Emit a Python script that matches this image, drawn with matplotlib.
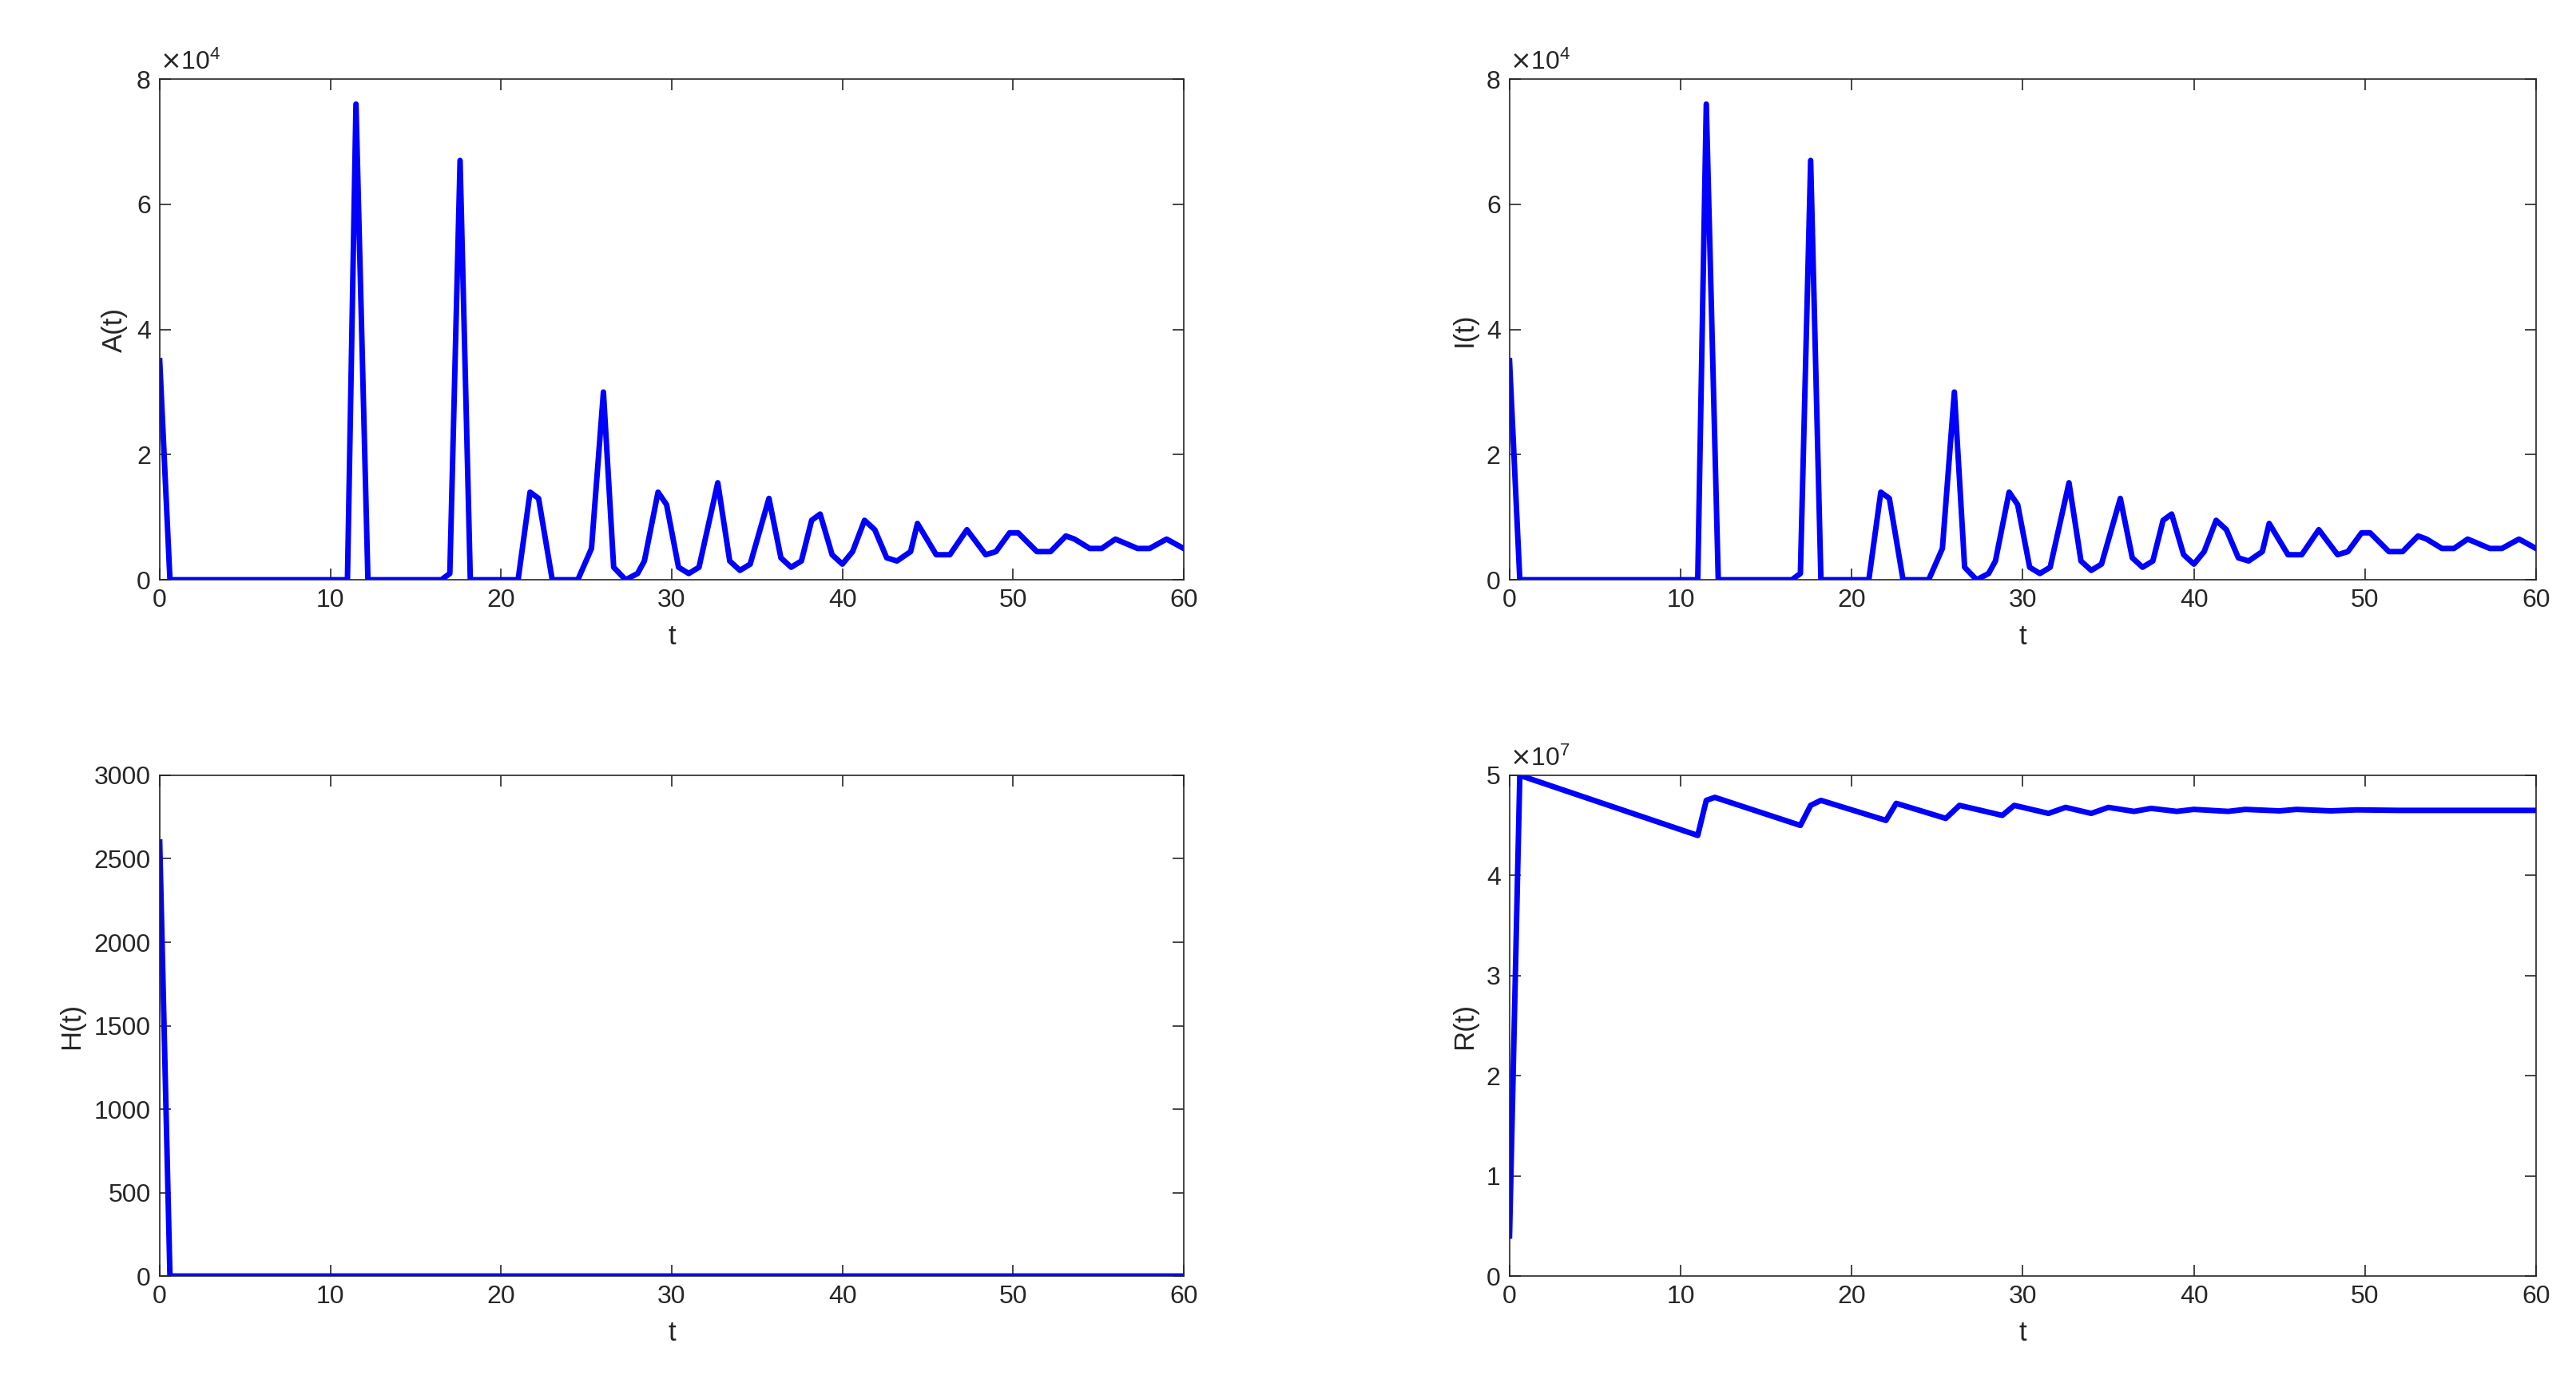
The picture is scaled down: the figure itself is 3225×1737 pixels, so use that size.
import matplotlib
matplotlib.use("Agg")
import matplotlib.pyplot as plt
from matplotlib.ticker import FuncFormatter

plt.rcParams['font.family'] = ['Liberation Sans', 'DejaVu Sans']

tA = [0,0.6,11,11.5,12.2,16.5,17,17.6,18.2,21,21.7,22.2,23,24.5,25.3,26,26.6,27.3,28,28.4,29.2,29.7,30.4,31,31.6,32.7,33.4,34,34.6,35.7,36.4,37,37.6,38.2,38.7,39.4,40,40.6,41.3,41.9,42.6,43.2,44,44.4,45.5,46.3,47.3,48.4,49,49.8,50.3,51.4,52.2,53.1,53.6,54.5,55.2,56,57.3,58,59,60]
A = [3.5,0,0,7.6,0,0,0.1,6.7,0,0,1.4,1.3,0,0,0.5,3.0,0.2,0,0.1,0.3,1.4,1.2,0.2,0.1,0.2,1.55,0.3,0.15,0.25,1.3,0.35,0.2,0.3,0.95,1.05,0.4,0.25,0.45,0.95,0.8,0.35,0.3,0.45,0.9,0.4,0.4,0.8,0.4,0.45,0.75,0.75,0.45,0.45,0.7,0.65,0.5,0.5,0.65,0.5,0.5,0.65,0.5]
A = [v*1e4 for v in A]
I = list(A)
tH = [0,0.6,60]
H = [2600,0,0]
tR = [0,0.6,11,11.5,12,17,17.6,18.2,22,22.6,23,25.5,26.3,26.8,28.8,29.5,30,31.5,32.5,34,35,36.5,37.5,39,40,42,43,45,46,48,49.5,52,60]
R = [0.4,5.0,4.4,4.75,4.78,4.5,4.7,4.75,4.55,4.72,4.7,4.57,4.7,4.68,4.6,4.7,4.68,4.62,4.68,4.62,4.68,4.64,4.67,4.64,4.66,4.64,4.66,4.645,4.66,4.645,4.655,4.65,4.65]
R = [v*1e7 for v in R]

fig = plt.figure(figsize=(32.25, 17.37), dpi=100)
pos = [[0.062,0.582,0.3975,0.361],[0.586,0.582,0.3985,0.361],
       [0.062,0.080,0.3975,0.361],[0.586,0.080,0.3985,0.361]]
specs = [(tA,A,'A(t)',8e4,1e4,4),(tA,I,'I(t)',8e4,1e4,4),(tH,H,'H(t)',3000,None,None),(tR,R,'R(t)',5e7,1e7,7)]
fs = 23
for p,(t,y,lab,ymax,sc,ex) in zip(pos,specs):
    ax = fig.add_axes(p)
    ax.plot(t,y,color='#0000ff',lw=5)
    ax.set_xlim(0,60); ax.set_ylim(0,ymax)
    ax.set_xticks(range(0,61,10))
    if sc:
        ax.set_yticks([sc*k for k in range(0,int(round(ymax/sc))+1, 2 if ex==4 else 1)])
        ax.yaxis.set_major_formatter(FuncFormatter(lambda v,_,s=sc: f"{v/s:g}"))
        ax.text(0.0,1.008,r'$\times\mathregular{10^{%d}}$'%ex,transform=ax.transAxes,fontsize=fs,color='#262626',va='bottom')
    else:
        ax.set_yticks(range(0,3001,500))
    ax.tick_params(direction='in',length=10,width=1.2,labelsize=fs,colors='#262626',top=True,right=True,pad=8)
    for s in ax.spines.values():
        s.set_linewidth(1.2); s.set_color('#262626')
    ax.set_xlabel('t',fontsize=fs+2,color='#262626',labelpad=10)
    ax.set_ylabel(lab,fontsize=fs+2,color='#262626',labelpad=8)
fig.savefig('out.png',dpi=100,facecolor='white')
